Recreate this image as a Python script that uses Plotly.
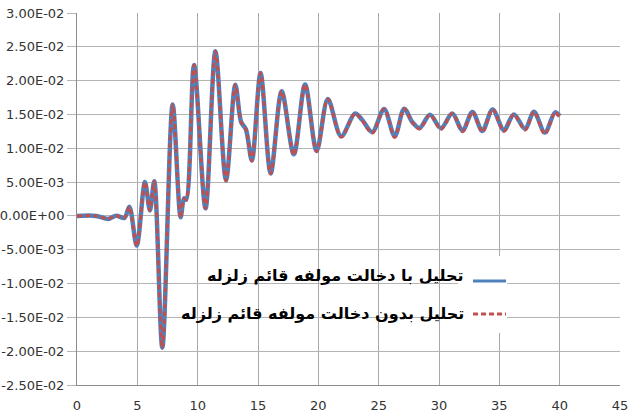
import plotly.graph_objects as go

# ---- data (time in s, response values) ----
time_s = [0, 1.6, 2.57, 3.25, 3.93, 4.34, 4.95, 5.63, 6.04, 6.40, 7.07, 7.93, 8.59, 8.87, 9.05,
          9.70, 10.65, 11.47, 12.35, 13.12, 13.6, 14.0, 14.49, 15.21, 16.05, 16.96, 17.97, 18.90,
          19.86, 20.79, 21.89, 23.04, 23.64, 24.47, 25.45, 26.33, 27.11, 27.80, 28.39, 29.25,
          30.16, 31.10, 31.95, 32.77, 33.59, 34.44, 35.38, 36.20, 37.13, 37.87, 38.77, 39.62, 40.0]

with_vertical_e3 = [0, 0, -0.44, 0.04, -0.29, 1.36, -4.39, 5.01, 0.8, 5.12, -19.44, 16.48, -0.2,
                    2.59, 2.4, 22.32, 1.13, 24.34, 5.26, 19.40, 13.9, 12.8, 8.19, 21.13, 6.29,
                    18.42, 9.11, 19.44, 9.61, 17.28, 11.77, 15.13, 14.18, 12.40, 15.82, 11.77,
                    15.86, 13.85, 13.01, 14.94, 12.97, 15.13, 12.63, 15.38, 12.57, 15.75, 12.68,
                    15.01, 12.89, 15.39, 12.32, 15.31, 14.77]

without_vertical_e3 = [0, 0, -0.44, 0.04, -0.29, 1.36, -4.45, 5.01, 0.8, 5.12, -19.55, 16.48, -0.25,
                       2.59, 2.4, 22.32, 1.1, 24.34, 5.2, 19.40, 13.9, 12.8, 8.1, 21.13, 6.2,
                       18.42, 9.0, 19.44, 9.5, 17.28, 11.65, 15.13, 14.1, 12.25, 15.82, 11.6,
                       15.86, 13.8, 12.85, 14.94, 12.8, 15.13, 12.45, 15.38, 12.4, 15.75, 12.5,
                       15.01, 12.7, 15.39, 12.1, 15.31, 14.6]

legend_names = ["تحليل با دخالت مولفه قائم زلزله", "تحليل بدون دخالت مولفه قائم زلزله"]

y_tickvals = [0.03, 0.025, 0.02, 0.015, 0.01, 0.005, 0.0, -0.005, -0.01, -0.015, -0.02, -0.025]
y_ticktext = ["3.00E-02", "2.50E-02", "2.00E-02", "1.50E-02", "1.00E-02", "5.00E-03",
              "0.00E+00", "-5.00E-03", "-1.00E-02", "-1.50E-02", "-2.00E-02", "-2.50E-02"]
x_tickvals = [0, 5, 10, 15, 20, 25, 30, 35, 40, 45]

BLUE = "#4F81BD"
RED = "#C0504D"

y_with = [v * 1e-3 for v in with_vertical_e3]
y_without = [v * 1e-3 for v in without_vertical_e3]

fig = go.Figure()
fig.add_trace(go.Scatter(x=time_s, y=y_with, mode="lines", name=legend_names[0],
                         line=dict(color=BLUE, width=4.5, shape="spline", smoothing=0.9),
                         showlegend=False))
fig.add_trace(go.Scatter(x=time_s, y=y_without, mode="lines", name=legend_names[1],
                         line=dict(color=RED, width=3, shape="spline", smoothing=0.9,
                                   dash="5px,3px"),
                         showlegend=False))

W, H = 630, 416
ML, MR, MT, MB = 77, 10, 13, 31
pw, ph = W - ML - MR, H - MT - MB


def px2paper(x, y):
    return (x - ML) / pw, (H - MB - y) / ph


# legend box (white) and samples
x0, y0 = px2paper(458, 256)
x1, y1 = px2paper(507, 333)
fig.add_shape(type="rect", xref="paper", yref="paper", x0=x0, y0=y1, x1=x1, y1=y0,
              fillcolor="white", line=dict(width=0), layer="above")
for i, (col, dash, w) in enumerate([(BLUE, "solid", 3), (RED, "5px,3px", 3)]):
    py = [281, 314][i]
    a0, b0 = px2paper(473, py)
    a1, _ = px2paper(506, py)
    fig.add_shape(type="line", xref="paper", yref="paper", x0=a0, x1=a1, y0=b0, y1=b0,
                  line=dict(color=col, width=w, dash=dash), layer="above")
    tx, ty = px2paper(466, [275, 313][i])
    fig.add_annotation(text="<b>" + legend_names[i] + "</b>", xref="paper", yref="paper",
                       x=tx, y=ty, xanchor="right", yanchor="middle", showarrow=False,
                       font=dict(family="DejaVu Sans", size=16, color="black"))

fig.update_layout(
    width=W, height=H,
    margin=dict(l=ML, r=MR, t=MT, b=MB, autoexpand=False),
    paper_bgcolor="white", plot_bgcolor="white",
    showlegend=False,
)
fig.update_xaxes(range=[0, 45], tickvals=x_tickvals, showgrid=True, gridcolor="#a8a8a8",
                 gridwidth=1, showline=True, linecolor="#8c8c8c", linewidth=1,
                 ticks="outside", ticklen=8, tickcolor="rgba(0,0,0,0)", zeroline=False,
                 automargin=False, ticklabeloverflow="allow",
                 tickfont=dict(family="DejaVu Sans", size=13, color="#333333"))
fig.update_yaxes(range=[-0.025, 0.03], tickvals=y_tickvals, ticktext=y_ticktext,
                 showgrid=True, gridcolor="#b4b4b4", gridwidth=1, showline=True,
                 linecolor="#8c8c8c", linewidth=1, ticks="outside", ticklen=9,
                 tickcolor="#b4b4b4", zeroline=False, automargin=False,
                 tickfont=dict(family="DejaVu Sans", size=13, color="#333333"))

fig.write_html("out.html")
